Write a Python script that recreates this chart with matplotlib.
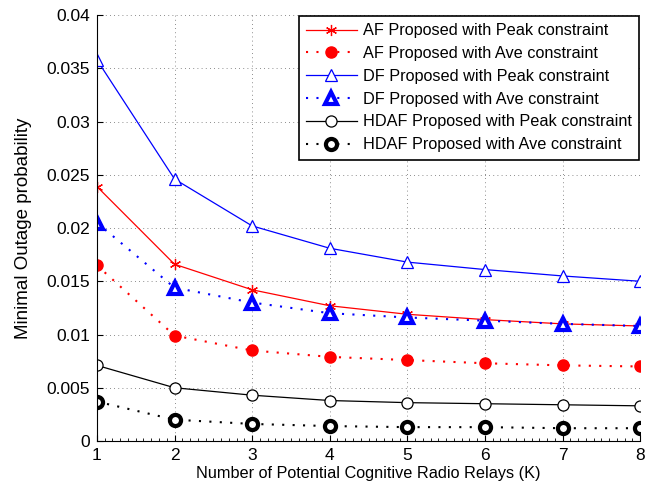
import numpy as np
import matplotlib
matplotlib.use("Agg")
import matplotlib.pyplot as plt
from matplotlib.ticker import MultipleLocator

plt.rcParams['font.family'] = ['Liberation Sans', 'DejaVu Sans']

# Data
K = [1, 2, 3, 4, 5, 6, 7, 8]
af_peak = [0.0239, 0.0166, 0.0142, 0.0127, 0.0119, 0.0114, 0.0110, 0.0108]
af_ave = [0.0165, 0.0099, 0.0085, 0.0079, 0.0076, 0.0073, 0.0071, 0.0070]
df_peak = [0.0358, 0.0246, 0.0202, 0.0181, 0.0168, 0.0161, 0.0155, 0.0150]
df_ave = [0.0205, 0.0144, 0.0130, 0.0120, 0.0116, 0.0113, 0.0110, 0.0108]
hdaf_peak = [0.0071, 0.0050, 0.0043, 0.0038, 0.0036, 0.0035, 0.0034, 0.0033]
hdaf_ave = [0.0037, 0.0020, 0.0016, 0.0014, 0.0013, 0.0013, 0.0012, 0.0012]

labels = [
    "AF Proposed with Peak constraint",
    "AF Proposed with Ave constraint",
    "DF Proposed with Peak constraint",
    "DF Proposed with Ave constraint",
    "HDAF Proposed with Peak constraint",
    "HDAF Proposed with Ave constraint",
]
ytick_labels = ['0', '0.005', '0.01', '0.015', '0.02', '0.025', '0.03', '0.035', '0.04']

fig = plt.figure(figsize=(6.46, 4.87), dpi=100)
ax = fig.add_axes([0.150, 0.0945, 0.841, 0.8745])

dots = (0, (1, 4))
ax.plot(K, af_peak, color='red', lw=0.9, marker=(6, 2, 0), ms=8, mew=0.9, label=labels[0])
ax.plot(K, af_ave, color='red', lw=1.5, ls=dots, marker='o', ms=8, mfc='red', mec='red', label=labels[1])
ax.plot(K, df_peak, color='blue', lw=0.9, marker='^', ms=9, mfc='white', mec='blue', mew=0.9, label=labels[2])
ax.plot(K, df_ave, color='blue', lw=1.5, ls=dots, marker='^', ms=9, mfc='white', mec='blue', mew=3, label=labels[3])
ax.plot(K, hdaf_peak, color='black', lw=0.9, marker='o', ms=8, mfc='white', mec='black', mew=0.9, label=labels[4])
ax.plot(K, hdaf_ave, color='black', lw=1.5, ls=dots, marker='o', ms=8, mfc='white', mec='black', mew=3, label=labels[5])

ax.set_xlim(1, 8)
ax.set_ylim(0, 0.04)
ax.xaxis.set_major_locator(MultipleLocator(1))
ax.xaxis.set_minor_locator(MultipleLocator(0.1))
ax.set_yticks(np.arange(0, 0.0401, 0.005))
ax.set_yticklabels(ytick_labels)

ax.tick_params(direction='in', labelsize=12.5, length=4, width=0.8, pad=5)
ax.tick_params(which='minor', direction='in', length=2, width=0.6)
ax.spines['top'].set_visible(False)
ax.spines['right'].set_visible(False)
ax.grid(True, which='major', color='black', ls=dots, lw=0.6, alpha=0.6)

ax.set_xlabel("Number of Potential Cognitive Radio Relays (K)", fontsize=11.7, labelpad=2)
ax.set_ylabel("Minimal Outage probability", fontsize=13.5, labelpad=10)

leg = ax.legend(loc='upper right', fontsize=11.7, handlelength=3.1, labelspacing=0.48,
                borderaxespad=0.05, fancybox=False, framealpha=1, edgecolor='black',
                handletextpad=0.4, borderpad=0.45)
leg.get_frame().set_linewidth(1.2)

fig.savefig("out.png", dpi=100)
